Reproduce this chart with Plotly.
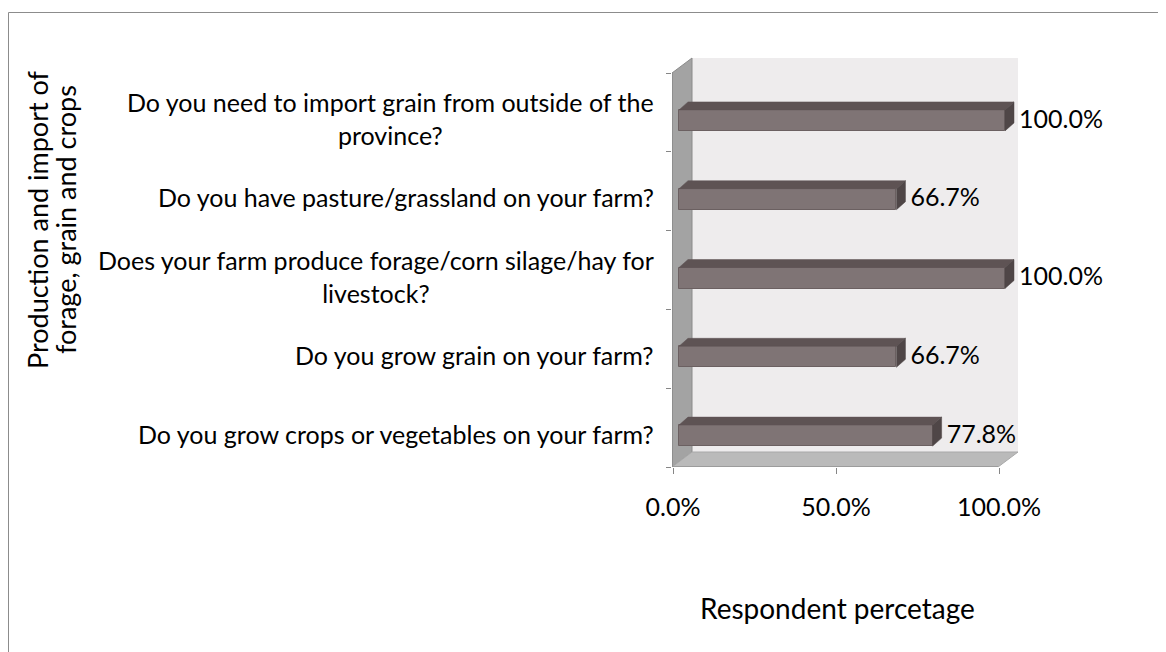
import plotly.graph_objects as go

# ---- data ----
categories = [
    "Do you grow crops or vegetables on your farm?",
    "Do you grow grain on your farm?",
    "Does your farm produce forage/corn silage/hay for<br>livestock?",
    "Do you have pasture/grassland on your farm?",
    "Do you need to import grain from outside of the<br>province?",
]
values = [77.8, 66.7, 100.0, 66.7, 100.0]
x_tick_vals = [0, 50, 100]
x_tick_text = ["0.0%", "50.0%", "100.0%"]
x_title = "Respondent percetage"
y_title_lines = ["Production and import of", "forage, grain and crops"]

# ---- geometry (pixel layout; page body adds an 8px offset) ----
OFF = 8
W, H = 1166, 652
PL, PR = 672 - OFF, 1020 - OFF      # plot area left/right px (figure coords)
PT, PB = 55 - OFF, 467 - OFF        # plot area top/bottom px
px_per_x = 3.26                     # pixels per percent
x0_px = 673 - OFF                   # pixel of 0%
slot_px = 78.8                      # pixels per category
xr = [-(x0_px - PL) / px_per_x, 100 + (PR - (x0_px + 100 * px_per_x)) / px_per_x]
yr = [-0.5, -0.5 + (PB - PT) / slot_px]


def dx(p):  # pixel -> x data delta
    return p / px_per_x


def dy(p):  # pixel -> y data delta (upwards)
    return p / slot_px


def xp(px):  # target pixel -> paper x
    return (px - OFF - PL) / (PR - PL)


def yp(py):  # target pixel -> paper y
    return (PB - (py - OFF)) / (PB - PT)


FONT = "Lato"
n = len(categories)
ypos = list(range(n))

# bar geometry
bar_shift_x = dx(6)
bar_shift_y = -dy(8)
bar_h = dy(21)
depth_x = dx(9)
depth_y = dy(8)

front_col = "#7f7475"
top_col = "#5e5354"
side_col = "#4f4647"
edge_col = "#6b6061"

fig = go.Figure()

# front faces
fig.add_trace(go.Bar(
    orientation="h",
    y=[y + bar_shift_y for y in ypos],
    x=values,
    base=bar_shift_x,
    width=bar_h,
    marker=dict(color=front_col, line=dict(color=edge_col, width=1)),
    hoverinfo="skip",
    showlegend=False,
))

# top and side faces (computed from values)
for y, v in zip(ypos, values):
    yc = y + bar_shift_y
    top = yc + bar_h / 2
    bot = yc - bar_h / 2
    left = bar_shift_x
    right = bar_shift_x + v
    fig.add_trace(go.Scatter(
        x=[left, left + depth_x, right + depth_x, right, left],
        y=[top, top + depth_y, top + depth_y, top, top],
        fill="toself", fillcolor=top_col, mode="lines",
        line=dict(color=top_col, width=0.5), hoverinfo="skip", showlegend=False))
    fig.add_trace(go.Scatter(
        x=[right, right + depth_x, right + depth_x, right, right],
        y=[top, top + depth_y, bot + depth_y, bot, top],
        fill="toself", fillcolor=side_col, mode="lines",
        line=dict(color=side_col, width=0.5), hoverinfo="skip", showlegend=False))

# data labels
fig.add_trace(go.Scatter(
    x=[bar_shift_x + v + depth_x + dx(5) for v in values],
    y=[y + bar_shift_y + dy(-1) for y in ypos],
    mode="text",
    text=[f"{v:.1f}%" for v in values],
    textposition="middle right",
    textfont=dict(family=FONT, size=25, color="#000000"),
    hoverinfo="skip", showlegend=False, cliponaxis=False,
))

# walls / floor
wall_dx = dx(20)
wall_dy = dy(15)
xa0 = xr[0]
xend = 100 + dx(-1)
shapes = []
# back wall
shapes.append(dict(type="rect", xref="x", yref="y", layer="below",
                   x0=xa0 + wall_dx, x1=xend + wall_dx, y0=-0.5 + wall_dy, y1=yr[1] - dy(3),
                   fillcolor="#eeeced", line=dict(width=0)))
# left wall
shapes.append(dict(type="path", xref="x", yref="y", layer="below",
                   path=f"M {xa0},{-0.5} L {xa0 + wall_dx},{-0.5 + wall_dy} L {xa0 + wall_dx},{yr[1] - dy(3)} "
                        f"L {xa0},{n - 0.5} Z",
                   fillcolor="#a3a3a3", line=dict(color="#8a8a8a", width=1)))
# floor
shapes.append(dict(type="path", xref="x", yref="y", layer="below",
                   path=f"M {xa0},{-0.5} L {xa0 + wall_dx},{-0.5 + wall_dy} L {xend + wall_dx},{-0.5 + wall_dy} "
                        f"L {xend},{-0.5} Z",
                   fillcolor="#bababa", line=dict(color="#a8a8a8", width=1)))
# axis lines
shapes.append(dict(type="line", xref="x", yref="y", x0=xa0, x1=xa0, y0=-0.5, y1=n - 0.5,
                   line=dict(color="#868686", width=1)))
shapes.append(dict(type="line", xref="x", yref="y", x0=xa0, x1=xend, y0=-0.5, y1=-0.5,
                   line=dict(color="#868686", width=1)))

# outer frame
shapes.append(dict(type="line", xref="paper", yref="paper", x0=xp(8.5), x1=xp(8.5), y0=yp(12.5), y1=yp(670),
                   line=dict(color="#8c8c8c", width=1)))
shapes.append(dict(type="line", xref="paper", yref="paper", x0=xp(8.5), x1=xp(1180), y0=yp(12.5), y1=yp(12.5),
                   line=dict(color="#8c8c8c", width=1)))

# category labels (centered multi-line, right-anchored)
annotations = []
for y, c in zip(ypos, categories):
    annotations.append(dict(x=xp(656), y=y + bar_shift_y + dy(2), xref="paper", yref="y",
                            text=c, showarrow=False, xanchor="right", yanchor="middle",
                            align="center", font=dict(family=FONT, size=25, color="#000000")))
# y title (two lines, tighter line spacing)
for i, line in enumerate(y_title_lines):
    annotations.append(dict(x=xp(37 + 28 * i), y=yp(220), xref="paper", yref="paper", text=line,
                            showarrow=False, textangle=-90, xanchor="center", yanchor="middle",
                            font=dict(family=FONT, size=27, color="#000000")))
# x title
annotations.append(dict(x=xp(837), y=yp(608), xref="paper", yref="paper", text=x_title,
                        showarrow=False, xanchor="center", yanchor="middle",
                        font=dict(family=FONT, size=28, color="#000000")))

fig.update_layout(
    width=W, height=H,
    margin=dict(l=PL, r=W - PR, t=PT, b=H - PB, pad=0),
    paper_bgcolor="#ffffff", plot_bgcolor="rgba(0,0,0,0)",
    shapes=shapes, annotations=annotations,
    bargap=0,
    xaxis=dict(range=xr, tickvals=x_tick_vals, ticktext=x_tick_text, showgrid=False, zeroline=False,
               showline=False, ticks="outside", ticklen=6, tickcolor="#868686", ticklabelstandoff=12,
               tickfont=dict(family=FONT, size=25, color="#000000"), fixedrange=True),
    yaxis=dict(range=yr, showticklabels=False, showgrid=False, zeroline=False, showline=False,
               tickvals=[i - 0.5 for i in range(n + 1)], ticks="outside", ticklen=5, tickcolor="#868686",
               fixedrange=True),
)

fig.write_html("out.html")
